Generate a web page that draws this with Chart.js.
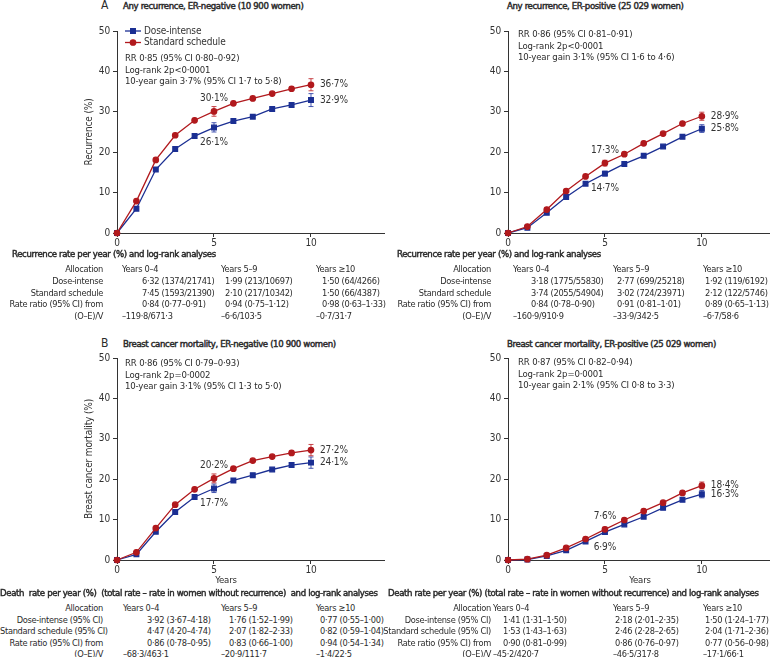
<!DOCTYPE html>
<html>
<head>
<meta charset="utf-8">
<script src="https://cdn.jsdelivr.net/npm/chart.js@4.4.1/dist/chart.umd.min.js"></script>
<style>
  body { margin: 0; background: #fff; }
  #fig {
    position: relative; width: 775px; height: 657px; overflow: hidden;
    font-family: "Liberation Sans Narrow", "DejaVu Sans Condensed", Roboto, sans-serif;
    font-size: 9.5px; letter-spacing: -0.15px; color: #2b2b2b;
  }
  #fig canvas { position: absolute; }
  .t { position: absolute; white-space: pre; line-height: 11.5px; }
  .b { -webkit-text-stroke: 0.45px #2b2b2b; font-size: 9.5px; letter-spacing: -0.35px; }
  .big { font-size: 12px; }
  .c { transform: translateX(-50%); }
  table { position: absolute; border-collapse: collapse; table-layout: fixed; font-size: 9.2px; letter-spacing: -0.3px; }
  td { padding: 0; white-space: pre; overflow: visible; }
  td:first-child { text-align: right; }
  #ta1 td, #ta2 td { height: 11.75px; line-height: 11.75px; }
  #tb1 td, #tb2 td { height: 11.5px; line-height: 11.5px; }

  #ta1 td:nth-child(1) { padding-right: 5px; }
  #ta1 td:nth-child(2) { padding-left: 14px; } #ta1 tr.v td:nth-child(2) { padding-left: 34px; }
  #ta1 td:nth-child(3) { padding-left: 4px; }  #ta1 tr.v td:nth-child(3) { padding-left: 8px; }
  #ta1 td:nth-child(4) { padding-left: 4px; }  #ta1 tr.v td:nth-child(4) { padding-left: 10px; }

  #ta2 td:nth-child(1) { padding-right: 5px; }
  #ta2 td:nth-child(2) { padding-left: 17px; } #ta2 tr.v td:nth-child(2) { padding-left: 35px; }
  #ta2 td:nth-child(3) { padding-left: 4px; }  #ta2 tr.v td:nth-child(3) { padding-left: 8px; }
  #ta2 td:nth-child(4) { padding-left: 3px; }  #ta2 tr.v td:nth-child(4) { padding-left: 5px; }

  #tb1 td:nth-child(1) { padding-right: 5px; }
  #tb1 td:nth-child(2) { padding-left: 15px; } #tb1 tr.v td:nth-child(2) { padding-left: 39px; }
  #tb1 td:nth-child(3) { padding-left: 4px; }  #tb1 tr.v td:nth-child(3) { padding-left: 12px; }
  #tb1 td:nth-child(4) { padding-left: 4px; }  #tb1 tr.v td:nth-child(4) { padding-left: 8px; }

  #tb2 td:nth-child(1) { padding-right: 0; }
  #tb2 td:nth-child(2) { padding-left: 2px; }  #tb2 tr.v td:nth-child(2) { padding-left: 12px; }
  #tb2 td:nth-child(3) { padding-left: 4px; }  #tb2 tr.v td:nth-child(3) { padding-left: 6px; }
  #tb2 td:nth-child(4) { padding-left: 3px; }  #tb2 tr.v td:nth-child(4) { padding-left: 5px; }
</style>
</head>
<body>
<div id="fig">
  <div class="t big" style="left:101px;top:0px">A</div>
  <div class="t b" style="left:123px;top:0px">Any recurrence, ER-negative (10 900 women)</div>
  <div class="t b" style="left:507px;top:0px">Any recurrence, ER-positive (25 029 women)</div>
  <div class="t big" style="left:101px;top:338px">B</div>
  <div class="t b" style="left:123px;top:338px">Breast cancer mortality, ER-negative (10 900 women)</div>
  <div class="t b" style="left:507px;top:338px">Breast cancer mortality, ER-positive (25 029 women)</div>

  <canvas id="recNeg" width="390" height="235" style="left:0;top:20px"></canvas>
  <canvas id="recPos" width="390" height="235" style="left:385px;top:20px"></canvas>
  <canvas id="mortNeg" width="390" height="235" style="left:0;top:347px"></canvas>
  <canvas id="mortPos" width="390" height="235" style="left:385px;top:347px"></canvas>

  <div class="t" style="left:125px;top:52px">RR 0·85 (95% CI 0·80–0·92)
Log-rank 2p&lt;0·0001
10-year gain 3·7% (95% CI 1·7 to 5·8)</div>
  <div class="t" style="left:518px;top:28px">RR 0·86 (95% CI 0·81–0·91)
Log-rank 2p&lt;0·0001
10-year gain 3·1% (95% CI 1·6 to 4·6)</div>
  <div class="t" style="left:125px;top:357px">RR 0·86 (95% CI 0·79–0·93)
Log-rank 2p=0·0002
10-year gain 3·1% (95% CI 1·3 to 5·0)</div>
  <div class="t" style="left:518px;top:356px">RR 0·87 (95% CI 0·82–0·94)
Log-rank 2p=0·0001
10-year gain 2·1% (95% CI 0·8 to 3·3)</div>

  <div class="t c" style="left:226px;top:574px">Years</div>
  <div class="t c" style="left:640px;top:574px">Years</div>

  <div class="t b" style="left:12px;top:248px">Recurrence rate per year (%) and log-rank analyses</div>
  <table id="ta1" style="left:0;top:263px;width:390px">
    <colgroup><col style="width:108px"><col style="width:109px"><col style="width:95px"><col style="width:78px"></colgroup>
    <tr><td>Allocation</td><td>Years 0–4</td><td>Years 5–9</td><td>Years ≥10</td></tr>
    <tr class="v"><td>Dose-intense</td><td>6·32 (1374/21741)</td><td>1·99 (213/10697)</td><td>1·50 (64/4266)</td></tr>
    <tr class="v"><td>Standard schedule</td><td>7·45 (1593/21390)</td><td>2·10 (217/10342)</td><td>1·50 (66/4387)</td></tr>
    <tr class="v"><td>Rate ratio (95% CI) from</td><td>0·84 (0·77–0·91)</td><td>0·94 (0·75–1·12)</td><td>0·98 (0·63–1·33)</td></tr>
    <tr><td>(O–E)/V</td><td>–119·8/671·3</td><td>–6·6/103·5</td><td>–0·7/31·7</td></tr>
  </table>

  <div class="t b" style="left:397px;top:248px">Recurrence rate per year (%) and log-rank analyses</div>
  <table id="ta2" style="left:380px;top:263px;width:395px">
    <colgroup><col style="width:116px"><col style="width:113px"><col style="width:91px"><col style="width:75px"></colgroup>
    <tr><td>Allocation</td><td>Years 0–4</td><td>Years 5–9</td><td>Years ≥10</td></tr>
    <tr class="v"><td>Dose-intense</td><td>3·18 (1775/55830)</td><td>2·77 (699/25218)</td><td>1·92 (119/6192)</td></tr>
    <tr class="v"><td>Standard schedule</td><td>3·74 (2055/54904)</td><td>3·02 (724/23971)</td><td>2·12 (122/5746)</td></tr>
    <tr class="v"><td>Rate ratio (95% CI) from</td><td>0·84 (0·78–0·90)</td><td>0·91 (0·81–1·01)</td><td>0·89 (0·65–1·13)</td></tr>
    <tr><td>(O–E)/V</td><td>–160·9/910·9</td><td>–33·9/342·5</td><td>–6·7/58·6</td></tr>
  </table>

  <div class="t b" style="left:0;top:587px">Death  rate per year (%)  (total rate – rate in women without recurrence)  and log-rank analyses</div>
  <table id="tb1" style="left:0;top:602px;width:390px">
    <colgroup><col style="width:108px"><col style="width:109px"><col style="width:95px"><col style="width:78px"></colgroup>
    <tr><td>Allocation</td><td>Years 0–4</td><td>Years 5–9</td><td>Years ≥10</td></tr>
    <tr class="v"><td>Dose-intense (95% CI)</td><td>3·92 (3·67–4·18)</td><td>1·76 (1·52–1·99)</td><td>0·77 (0·55–1·00)</td></tr>
    <tr class="v"><td>Standard schedule (95% CI)</td><td>4·47 (4·20–4·74)</td><td>2·07 (1·82–2·33)</td><td>0·82 (0·59–1·04)</td></tr>
    <tr class="v"><td>Rate ratio (95% CI) from</td><td>0·86 (0·78–0·95)</td><td>0·83 (0·66–1·00)</td><td>0·94 (0·54–1·34)</td></tr>
    <tr><td>(O–E)/V</td><td>–68·3/463·1</td><td>–20·9/111·7</td><td>–1·4/22·5</td></tr>
  </table>

  <div class="t b" style="left:388px;top:587px">Death rate per year (%) (total rate – rate in women without recurrence) and log-rank analyses</div>
  <table id="tb2" style="left:380px;top:602px;width:395px">
    <colgroup><col style="width:111px"><col style="width:118px"><col style="width:91px"><col style="width:75px"></colgroup>
    <tr><td>Allocation</td><td>Years 0–4</td><td>Years 5–9</td><td>Years ≥10</td></tr>
    <tr class="v"><td>Dose-intense (95% CI)</td><td>1·41 (1·31–1·50)</td><td>2·18 (2·01–2·35)</td><td>1·50 (1·24–1·77)</td></tr>
    <tr class="v"><td>Standard schedule (95% CI)</td><td>1·53 (1·43–1·63)</td><td>2·46 (2·28–2·65)</td><td>2·04 (1·71–2·36)</td></tr>
    <tr class="v"><td>Rate ratio (95% CI) from</td><td>0·90 (0·81–0·99)</td><td>0·86 (0·76–0·97)</td><td>0·77 (0·56–0·98)</td></tr>
    <tr><td>(O–E)/V</td><td>–45·2/420·7</td><td>–46·5/317·8</td><td>–17·1/66·1</td></tr>
  </table>
</div>

<script>
// years of follow-up, and where the axis ticks / error bars sit
const years = [0, 1, 2, 3, 4, 5, 6, 7, 8, 9, 10];
const tickYears = [0, 5, 10];
const ciYears = [5, 10];

// cumulative risk (%)
const recNegDose = [0, 6.0, 15.7, 20.8, 24.0, 26.1, 27.7, 28.8, 30.7, 31.7, 32.9];
const recNegStd = [0, 7.9, 18.1, 24.2, 27.9, 30.1, 32.1, 33.3, 34.5, 35.7, 36.7];
const recPosDose = [0, 1.3, 5.0, 8.9, 12.2, 14.7, 17.1, 19.1, 21.4, 23.8, 25.8];
const recPosStd = [0, 1.6, 5.8, 10.4, 14.0, 17.3, 19.5, 22.2, 24.6, 27.1, 28.9];
const mortNegDose = [0, 1.4, 7.0, 11.9, 15.6, 17.7, 19.7, 21.0, 22.4, 23.5, 24.1];
const mortNegStd = [0, 1.9, 7.9, 13.7, 17.5, 20.2, 22.6, 24.6, 25.6, 26.5, 27.2];
const mortPosDose = [0, 0.1, 1.0, 2.4, 4.6, 6.9, 8.8, 10.7, 12.9, 14.9, 16.3];
const mortPosStd = [0, 0.2, 1.2, 3.0, 5.2, 7.6, 9.9, 12.1, 14.2, 16.6, 18.4];

// error bars (low, high) at 5 and 10 years
const recNegDoseCI = [[25.0, 27.3], [31.3, 34.5]];
const recNegStdCI = [[28.9, 31.3], [35.2, 38.2]];
const recPosDoseCI = [[14.1, 15.3], [24.9, 26.8]];
const recPosStdCI = [[16.6, 18.0], [27.9, 29.9]];
const mortNegDoseCI = [[16.7, 18.8], [22.7, 25.5]];
const mortNegStdCI = [[19.1, 21.3], [25.8, 28.6]];
const mortPosDoseCI = [[6.5, 7.3], [15.4, 17.2]];
const mortPosStdCI = [[7.1, 8.1], [17.6, 19.3]];

const BLUE = "#1b2f93";
const RED = "#b1191d";
const INK = "#333";
const FONT = '"Liberation Sans Narrow", "DejaVu Sans Condensed", Roboto, sans-serif';

Chart.defaults.font.family = FONT;
Chart.defaults.font.size = 10;
Chart.defaults.color = INK;

const fmt = (v) => v.toFixed(1).replace(".", "·") + "%";

// error bars, point labels at 5 and 10 years, and the small legend
const extras = {
  id: "extras",
  beforeDatasetsDraw(chart) {
    const { ctx, scales: { x, y } } = chart;
    ctx.save();
    ctx.lineWidth = 1;
    chart.data.datasets.forEach((ds) => {
      ctx.strokeStyle = ds.ciColor;
      ds.ci.forEach(([lo, hi], i) => {
        const px = x.getPixelForValue(ciYears[i]);
        const top = y.getPixelForValue(hi);
        const bot = y.getPixelForValue(lo);
        ctx.beginPath();
        ctx.moveTo(px, top); ctx.lineTo(px, bot);
        ctx.moveTo(px - 2.5, top); ctx.lineTo(px + 2.5, top);
        ctx.moveTo(px - 2.5, bot); ctx.lineTo(px + 2.5, bot);
        ctx.stroke();
      });
    });
    ctx.restore();
  },
  afterDatasetsDraw(chart) {
    const { ctx, chartArea, scales: { x, y } } = chart;
    ctx.save();
    ctx.font = "10px " + FONT;
    ctx.fillStyle = INK;
    ctx.textBaseline = "middle";
    chart.data.datasets.forEach((ds) => {
      const mid = ds.data[years.indexOf(ciYears[0])];
      const end = ds.data[years.indexOf(ciYears[1])];
      ctx.textAlign = "center";
      ctx.fillText(fmt(mid.y), x.getPixelForValue(mid.x),
        y.getPixelForValue(mid.y) + (ds.midLabel === "above" ? -13 : 15));
      ctx.textAlign = "left";
      ctx.fillText(fmt(end.y), x.getPixelForValue(end.x) + 9, y.getPixelForValue(end.y));
    });
    if (chart.options.plugins.extras.legend) {
      chart.data.datasets.forEach((ds, i) => {
        const ly = chartArea.top + i * 11.5;
        const lx = chartArea.left + 8;
        ctx.strokeStyle = ds.borderColor;
        ctx.fillStyle = ds.borderColor;
        ctx.lineWidth = 1.3;
        ctx.beginPath();
        ctx.moveTo(lx, ly); ctx.lineTo(lx + 16, ly);
        ctx.stroke();
        Chart.helpers.drawPoint(ctx, { pointStyle: ds.pointStyle, radius: ds.pointRadius, borderWidth: 1 }, lx + 8, ly);
        ctx.fillStyle = INK;
        ctx.textAlign = "left";
        ctx.fillText(ds.label, lx + 19, ly);
      });
    }
    ctx.restore();
  },
};

function curve(id, dose, std, doseCI, stdCI, yTitle, xMax, padLeft, legend) {
  return new Chart(document.getElementById(id), {
    type: "line",
    data: {
      datasets: [
        {
          label: "Dose-intense",
          data: years.map((t, i) => ({ x: t, y: dose[i] })),
          borderColor: BLUE,
          backgroundColor: BLUE,
          ciColor: "rgba(40,60,165,0.85)",
          ci: doseCI,
          midLabel: "below",
          pointStyle: "rect",
          pointRadius: 3.3,
          borderWidth: 1.3,
          order: 1,
        },
        {
          label: "Standard schedule",
          data: years.map((t, i) => ({ x: t, y: std[i] })),
          borderColor: RED,
          backgroundColor: RED,
          ciColor: "rgba(190,40,45,0.85)",
          ci: stdCI,
          midLabel: "above",
          pointStyle: "circle",
          pointRadius: 2.7,
          borderWidth: 1.3,
          order: 0,
        },
      ],
    },
    options: {
      responsive: false,
      animation: false,
      clip: false,
      layout: { padding: { left: padLeft, top: 11, right: 2, bottom: 0 } },
      plugins: {
        legend: { display: false },
        tooltip: { enabled: false },
        extras: { legend: legend },
      },
      scales: {
        x: {
          type: "linear",
          min: 0,
          max: xMax,
          afterBuildTicks: (axis) => {
            axis.ticks = tickYears.map((v) => ({ value: v }));
          },
          afterFit: (axis) => {
            axis.height = 22;
          },
          ticks: { padding: 0, color: INK, maxRotation: 0 },
          grid: { drawOnChartArea: false, tickLength: 4, color: INK },
          border: { color: INK, width: 1 },
        },
        y: {
          min: 0,
          max: 50,
          afterFit: (axis) => {
            axis.width = 34;
          },
          ticks: { stepSize: 10, padding: 3, color: INK },
          grid: { drawOnChartArea: false, tickLength: 4, color: INK },
          border: { color: INK, width: 1 },
          title: { display: !!yTitle, text: yTitle, padding: 0, color: INK, font: { size: 10 } },
        },
      },
    },
    plugins: [extras],
  });
}

curve("recNeg", recNegDose, recNegStd, recNegDoseCI, recNegStdCI, "Recurrence (%)", 13.8, 83, true);
curve("recPos", recPosDose, recPosStd, recPosDoseCI, recPosStdCI, "", 13.5, 89, false);
curve("mortNeg", mortNegDose, mortNegStd, mortNegDoseCI, mortNegStdCI, "Breast cancer mortality (%)", 13.8, 83, false);
curve("mortPos", mortPosDose, mortPosStd, mortPosDoseCI, mortPosStdCI, "", 13.5, 89, false);
</script>
</body>
</html>
